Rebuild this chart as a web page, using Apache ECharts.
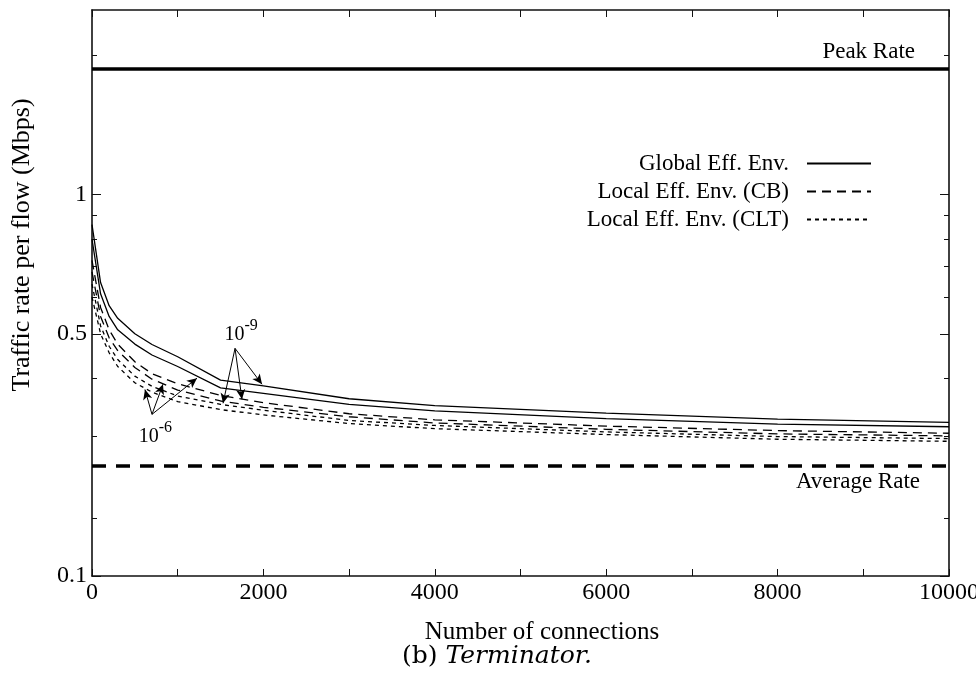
<!DOCTYPE html>
<html>
<head>
<meta charset="utf-8">
<script src="https://cdn.jsdelivr.net/npm/echarts@6/dist/echarts.min.js"></script>
<style>
  html, body { margin: 0; padding: 0; background: #fff; }
  #chart { width: 976px; height: 679px; }
</style>
</head>
<body>
<div id="chart"></div>
<script>
// number of connections (x)
const connections = [0, 100, 200, 300, 500, 700, 1000, 1500, 2000, 3000, 4000, 6000, 8000, 10000]
// traffic rate per flow (Mbps), eps = 1e-9 (upper) and 1e-6 (lower)
const globalE9 = [0.86, 0.645, 0.575, 0.54, 0.5, 0.474, 0.446, 0.397, 0.386, 0.362, 0.35, 0.337, 0.327, 0.322]
const globalE6 = [0.80, 0.61, 0.545, 0.51, 0.475, 0.45, 0.425, 0.382, 0.372, 0.352, 0.341, 0.328, 0.319, 0.315]
const cbE9 = [0.72, 0.57, 0.51, 0.475, 0.435, 0.41, 0.39, 0.368, 0.355, 0.336, 0.326, 0.316, 0.309, 0.305]
const cbE6 = [0.68, 0.545, 0.49, 0.46, 0.423, 0.399, 0.378, 0.358, 0.347, 0.331, 0.321, 0.311, 0.304, 0.301]
const cltE9 = [0.64, 0.52, 0.47, 0.44, 0.405, 0.385, 0.367, 0.352, 0.342, 0.325, 0.317, 0.307, 0.30, 0.297]
const cltE6 = [0.60, 0.50, 0.455, 0.425, 0.392, 0.374, 0.357, 0.343, 0.334, 0.32, 0.312, 0.303, 0.296, 0.293]

const peakRate = 1.87
const avgRate = 0.26

// y axis (log) ticks and labels
const yMin = 0.15
const yMax = 2.5
const yMajorTicks = [0.15, 0.5, 1]
const yMajorLabels = ['0.1', '0.5', '1']
const yMinorTicks = [0.2, 0.3, 0.4, 0.6, 0.7, 0.8, 0.9, 2]

// annotation arrows: [from, to] in data coords
const arrowsE9 = [
  [[1669, 0.465], [1984, 0.389]],
  [[1669, 0.465], [1750, 0.361]],
  [[1669, 0.465], [1529, 0.354]],
]
const arrowsE6 = [
  [[700, 0.335], [618, 0.379]],
  [[700, 0.335], [828, 0.389]],
  [[700, 0.335], [1225, 0.401]],
]
const labelE9 = [1740, 0.506]
const labelE6 = [740, 0.305]

const legendNames = ['Global Eff. Env.', 'Local Eff. Env. (CB)', 'Local Eff. Env. (CLT)']

const FONT = "'Liberation Serif', 'Times New Roman', serif"

const chart = echarts.init(document.getElementById('chart'))

const pair = (ys) => connections.map((x, i) => [x, ys[i]])

const lineSeries = (name, ys, type) => ({
  name: name,
  type: 'line',
  data: pair(ys),
  symbol: 'none',
  silent: true,
  xAxisIndex: 0,
  yAxisIndex: 0,
  lineStyle: { color: '#000', width: 1.3, type: type },
  itemStyle: { color: '#000' },
  emphasis: { disabled: true },
})

const arrowLines = arrowsE9.concat(arrowsE6).map(a => [
  { coord: a[0] },
  { coord: a[1] },
])

const xAxisBase = {
  type: 'value',
  min: 0,
  max: 10000,
  interval: 1000,
  axisLine: { show: true, onZero: false, lineStyle: { color: '#111', width: 1.6 } },
  axisTick: { inside: true, length: 7, lineStyle: { color: '#111', width: 1 } },
  splitLine: { show: false },
}

const yAxisBase = {
  type: 'log',
  logBase: 10,
  min: yMin,
  max: yMax,
  splitLine: { show: false },
}

const option = {
  animation: false,
  backgroundColor: '#fff',
  grid: { left: 92, right: 27, top: 10, bottom: 103, outerBoundsMode: 'none', containLabel: false },
  legend: {
    data: legendNames,
    orient: 'vertical',
    right: 99,
    top: 147,
    align: 'right',
    itemWidth: 64,
    itemHeight: 14,
    itemGap: 5,
    itemStyle: { opacity: 0 },
    selectedMode: false,
    textStyle: { fontFamily: FONT, fontSize: 23, color: '#000', padding: [0, 13, 0, 0] },
  },
  xAxis: [
    Object.assign({}, xAxisBase, {
      position: 'bottom',
      axisLabel: {
        fontFamily: FONT,
        fontSize: 24,
        color: '#000',
        margin: 5,
        formatter: v => (v % 2000 === 0 ? String(v) : ''),
      },
    }),
    Object.assign({}, xAxisBase, {
      position: 'top',
      axisLabel: { show: false },
    }),
  ],
  yAxis: [
    Object.assign({}, yAxisBase, {
      position: 'left',
      axisLine: { show: true, lineStyle: { color: '#111', width: 1.6 } },
      axisTick: { inside: true, length: 9, customValues: yMajorTicks, lineStyle: { color: '#111' } },
      axisLabel: {
        customValues: yMajorTicks,
        fontFamily: FONT,
        fontSize: 24,
        color: '#000',
        margin: 5,
        formatter: v => yMajorLabels[yMajorTicks.indexOf(+v)] || '',
      },
    }),
    Object.assign({}, yAxisBase, {
      position: 'left',
      axisLine: { show: false },
      axisTick: { inside: true, length: 5, customValues: yMinorTicks, lineStyle: { color: '#111' } },
      axisLabel: { show: false },
    }),
    Object.assign({}, yAxisBase, {
      position: 'right',
      axisLine: { show: true, lineStyle: { color: '#111', width: 1.6 } },
      axisTick: { inside: true, length: 9, customValues: yMajorTicks, lineStyle: { color: '#111' } },
      axisLabel: { show: false },
    }),
    Object.assign({}, yAxisBase, {
      position: 'right',
      axisLine: { show: false },
      axisTick: { inside: true, length: 5, customValues: yMinorTicks, lineStyle: { color: '#111' } },
      axisLabel: { show: false },
    }),
  ],
  series: [
    Object.assign(lineSeries(legendNames[0], globalE9, 'solid'), {
      markLine: {
        silent: true,
        animation: false,
        symbol: ['none', 'none'],
        data: [
          {
            yAxis: peakRate,
            lineStyle: { color: '#000', width: 3.5, type: 'solid' },
            label: {
              show: true,
              position: 'insideEndTop',
              formatter: 'Peak Rate',
              fontFamily: FONT,
              fontSize: 23,
              color: '#000',
              padding: [0, 29, 0, 0],
            },
          },
          {
            yAxis: avgRate,
            lineStyle: { color: '#000', width: 3.5, type: [14, 10] },
            label: {
              show: true,
              position: 'insideEndBottom',
              formatter: 'Average Rate',
              fontFamily: FONT,
              fontSize: 23,
              color: '#000',
              padding: [0, 24, 0, 0],
            },
          },
        ],
      },
    }),
    Object.assign(lineSeries(legendNames[0], globalE6, 'solid'), {
      markLine: {
        silent: true,
        animation: false,
        symbol: ['none', 'arrow'],
        symbolSize: [7, 10],
        label: { show: false },
        lineStyle: { color: '#000', width: 1, type: 'solid' },
        data: arrowLines,
      },
      markPoint: {
        silent: true,
        animation: false,
        symbol: 'circle',
        symbolSize: 0,
        label: {
          show: true,
          color: '#000',
          fontFamily: FONT,
          formatter: p => '{a|10}{s|' + p.name + '}',
          rich: {
            a: { fontFamily: FONT, fontSize: 20, color: '#000', verticalAlign: 'bottom' },
            s: { fontFamily: FONT, fontSize: 16, color: '#000', verticalAlign: 'bottom', padding: [0, 0, 11, 0] },
          },
        },
        data: [
          { name: '-9', coord: labelE9 },
          { name: '-6', coord: labelE6 },
        ],
      },
    }),
    lineSeries(legendNames[1], cbE9, [9, 6]),
    lineSeries(legendNames[1], cbE6, [9, 6]),
    lineSeries(legendNames[2], cltE9, [4, 4]),
    lineSeries(legendNames[2], cltE6, [4, 4]),
  ],
  graphic: [
    {
      type: 'text',
      x: 22,
      y: 245,
      rotation: Math.PI / 2,
      style: {
        text: 'Traffic rate per flow (Mbps)',
        fontFamily: FONT,
        fontSize: 26,
        fill: '#000',
        align: 'center',
        verticalAlign: 'middle',
      },
    },
    {
      type: 'text',
      x: 542,
      y: 632,
      style: {
        text: 'Number of connections',
        fontFamily: FONT,
        fontSize: 25,
        fill: '#000',
        align: 'center',
        verticalAlign: 'middle',
      },
    },
    {
      type: 'text',
      x: 497,
      y: 656,
      style: {
        text: '{n|(b) }{i|Terminator.}',
        align: 'center',
        verticalAlign: 'middle',
        rich: {
          n: { fontFamily: "'DejaVu Serif', serif", fontSize: 25, fill: '#000' },
          i: { fontFamily: "'DejaVu Serif', serif", fontSize: 25, fontStyle: 'italic', fill: '#000' },
        },
      },
    },
  ],
}

chart.setOption(option)
</script>
</body>
</html>
